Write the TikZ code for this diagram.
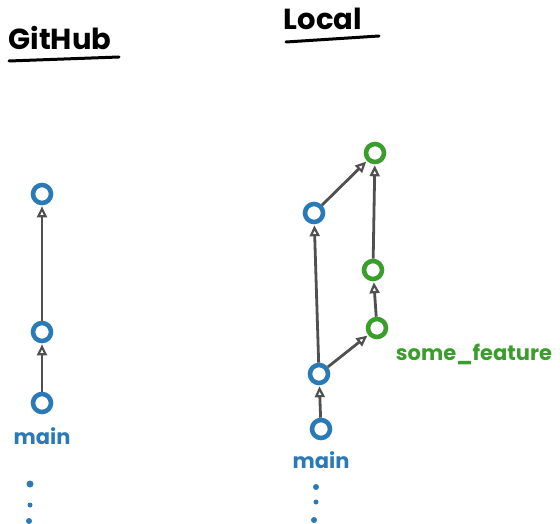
\documentclass[tikz,border=0pt]{standalone}
\usepackage{fontspec}
\newfontfamily\hand{Poppins}
\usetikzlibrary{arrows.meta}
\definecolor{cblue}{HTML}{2A7AB8}
\definecolor{cgreen}{HTML}{3A9E2C}
\definecolor{cgrey}{HTML}{505050}
\tikzset{
  commit/.style={circle, draw=#1, line width=4.6pt, minimum size=18pt, inner sep=0pt},
  link/.style={draw=cgrey, line width=2.8pt, -{Triangle[open, length=11pt, width=10pt, line width=2.2pt]}, shorten >=1pt, shorten <=0pt},
  title/.style={font=\hand\bfseries\fontsize{29}{29}\selectfont, text=black},
  underline/.style={line width=3pt, line cap=round},
  branch/.style={font=\hand\bfseries\fontsize{21}{21}\selectfont, text=#1},
  dotmark/.style={circle, fill=cblue, inner sep=0pt, minimum size=#1}
}
\begin{document}
\begin{tikzpicture}[x=1pt, y=-1pt]
\useasboundingbox (0,0) rectangle (560,524);
% titles
\node[title] (tgh) at (60,38) {GitHub};
\coordinate (ughA) at (9,61);
\coordinate (ughB) at (119,57);
\draw[underline] (ughA) -- (ughB);
\node[title] (tloc) at (323,19) {Local};
\coordinate (ulocA) at (286,42);
\coordinate (ulocB) at (379,36);
\draw[underline] (ulocA) -- (ulocB);
% GitHub commits
\node[commit=cblue] (g1) at (42,194) {};
\node[commit=cblue] (g2) at (42,332) {};
\node[commit=cblue] (g3) at (42,403) {};
\draw[link] (g3) -- (g2);
\draw[link] (g2) -- (g1);
\node[branch=cblue] (gmain) at (42,436) {main};
\node[dotmark=7pt] (gd1) at (30,484) {};
\node[dotmark=5pt] (gd2) at (30,505) {};
\node[dotmark=6pt] (gd3) at (29,521) {};
% Local commits
\node[commit=cblue] (l1) at (321,429) {};
\node[commit=cblue] (l2) at (319,374) {};
\node[commit=cblue] (l3) at (314,213) {};
\node[commit=cgreen] (f1) at (377,328) {};
\node[commit=cgreen] (f2) at (373,270) {};
\node[commit=cgreen] (f3) at (375,153) {};
\draw[link] (l1) -- (l2);
\draw[link] (l2) -- (l3);
\draw[link] (l3) -- (f3);
\draw[link] (l2) -- (f1);
\draw[link] (f1) -- (f2);
\draw[link] (f2) -- (f3);
\node[branch=cblue] (lmain) at (321,460) {main};
\node[branch=cgreen] (feat) at (474,354) {some\_feature};
\node[dotmark=6pt] (ld1) at (316,487) {};
\node[dotmark=5pt] (ld2) at (316,502) {};
\node[dotmark=6pt] (ld3) at (314,520) {};
\end{tikzpicture}
\end{document}
